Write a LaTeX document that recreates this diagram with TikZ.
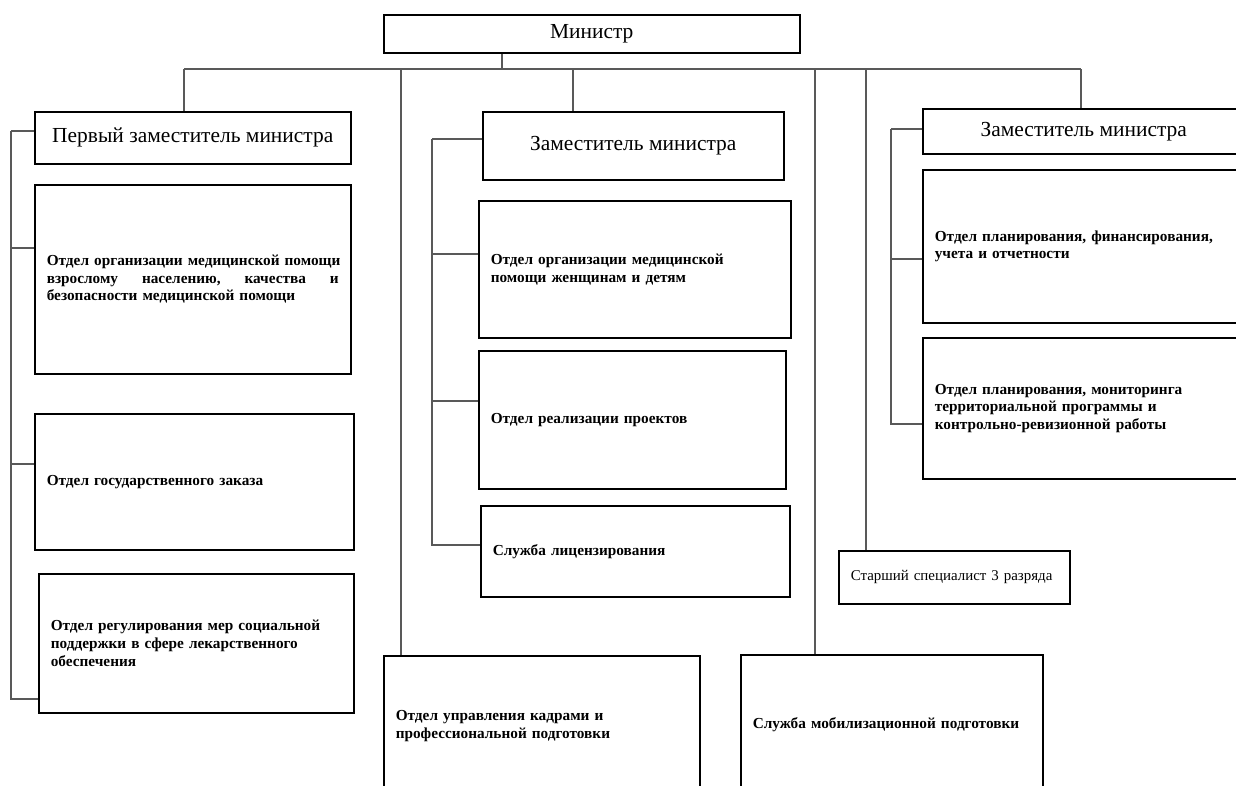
\documentclass[tikz,border=0pt]{standalone}
\usepackage{fontspec}
\setmainfont{Liberation Serif}
\tikzset{
  head/.style={draw, line width=0.9pt, anchor=north west, inner sep=0pt, font=\fontsize{12.2}{14}\selectfont},
  dept/.style={draw, line width=0.9pt, anchor=north west, inner xsep=0.24cm, inner ysep=0pt, align=left, font=\bfseries\fontsize{8.7}{10}\selectfont},
  link/.style={draw=black!65, line width=0.6pt}
}

\begin{document}
\begin{tikzpicture}[x=0.02cm, y=-0.02cm]
        \useasboundingbox (0,0) rectangle (1236,785);
        \clip (0,0) rectangle (1236,785);
        % boxes
        \node[head, minimum width=8.32cm, minimum height=0.76cm] (min) at (383,14) {Министр};
        \node[head, minimum width=6.32cm, minimum height=1.04cm] (dep1) at (34,111) {Первый заместитель министра};
        \node[head, minimum width=6.02cm, minimum height=1.36cm] (dep2) at (482,111) {Заместитель министра};
        \node[head, minimum width=6.44cm, minimum height=0.90cm] (dep3) at (922,108) {Заместитель министра};

        \node[dept, minimum width=6.32cm, minimum height=3.78cm, text width=5.84cm] (o2) at (34,184) {\leavevmode\hbox to 5.84cm{Отдел организации медицинской помощи}\\\leavevmode\hbox to 5.84cm{взрослому\hfill населению,\hfill качества\hfill и}\\безопасности медицинской помощи};
        \node[dept, minimum width=6.38cm, minimum height=2.72cm, text width=5.90cm] (o3) at (34,413) {Отдел государственного заказа};
        \node[dept, minimum width=6.30cm, minimum height=2.78cm, text width=5.82cm] (o4) at (38,573) {Отдел регулирования мер социальной\\поддержки в сфере лекарственного\\обеспечения};

        \node[dept, minimum width=6.24cm, minimum height=2.74cm, text width=5.76cm] (m1) at (478,200) {Отдел организации медицинской\\помощи женщинам и детям};
        \node[dept, minimum width=6.14cm, minimum height=2.76cm, text width=5.66cm] (m2) at (478,350) {Отдел реализации проектов};
        \node[dept, minimum width=6.18cm, minimum height=1.82cm, text width=5.70cm] (m3) at (480,505) {Служба лицензирования};

        \node[dept, minimum width=6.60cm, minimum height=3.06cm, text width=6.12cm] (r1) at (922,169) {Отдел планирования, финансирования,\\учета и отчетности};
        \node[dept, minimum width=6.60cm, minimum height=2.82cm, text width=6.12cm] (r2) at (922,337) {Отдел планирования, мониторинга\\территориальной программы и\\контрольно-ревизионной работы};
        \node[dept, minimum width=4.62cm, minimum height=1.06cm, text width=4.14cm, font=\fontsize{8.5}{10}\selectfont] (spec) at (838,550) {Старший специалист 3 разряда};

        \node[dept, minimum width=6.32cm, minimum height=2.80cm, text width=5.84cm] (kadr) at (383,655) {Отдел управления кадрами и\\профессиональной подготовки};
        \node[dept, minimum width=6.04cm, minimum height=2.80cm, text width=5.56cm] (mob) at (740,654) {Служба мобилизационной подготовки};

        % line
        \coordinate (b0) at (502,69);
        \coordinate (b1) at (184,69);
        \coordinate (b2) at (401,69);
        \coordinate (b3) at (573,69);
        \coordinate (b4) at (815,69);
        \coordinate (b5) at (866,69);
        \coordinate (b6) at (1081,69);
        \draw[link] (b0) -- (b0 |- min.south);
        \draw[link] (b1) -- (b6);
        \draw[link] (b1) -- (b1 |- dep1.north);
        \draw[link] (b2) -- (b2 |- kadr.north);
        \draw[link] (b3) -- (b3 |- dep2.north);
        \draw[link] (b4) -- (b4 |- mob.north);
        \draw[link] (b5) -- (b5 |- spec.north);
        \draw[link] (b6) -- (b6 |- dep3.north);

        % left
        \coordinate (lt) at (11,131);
        \draw[link] (lt) -- (lt -| dep1.west);
        \draw[link] (lt) |- ([yshift=-1.28cm]o2.north west);
        \draw[link] (lt) |- ([yshift=-1.02cm]o3.north west);
        \draw[link] (lt) |- ([yshift=-2.52cm]o4.north west);

        % middle
        \coordinate (mt) at (432,139);
        \draw[link] (mt) -- (mt -| dep2.west);
        \draw[link] (mt) |- ([yshift=-1.08cm]m1.north west);
        \draw[link] (mt) |- ([yshift=-1.02cm]m2.north west);
        \draw[link] (mt) |- ([yshift=-0.80cm]m3.north west);

        % right
        \coordinate (rt) at (891,129);
        \draw[link] (rt) -- (rt -| dep3.west);
        \draw[link] (rt) |- ([yshift=-1.80cm]r1.north west);
        \draw[link] (rt) |- ([yshift=-1.74cm]r2.north west);
    \end{tikzpicture}
\end{document}
